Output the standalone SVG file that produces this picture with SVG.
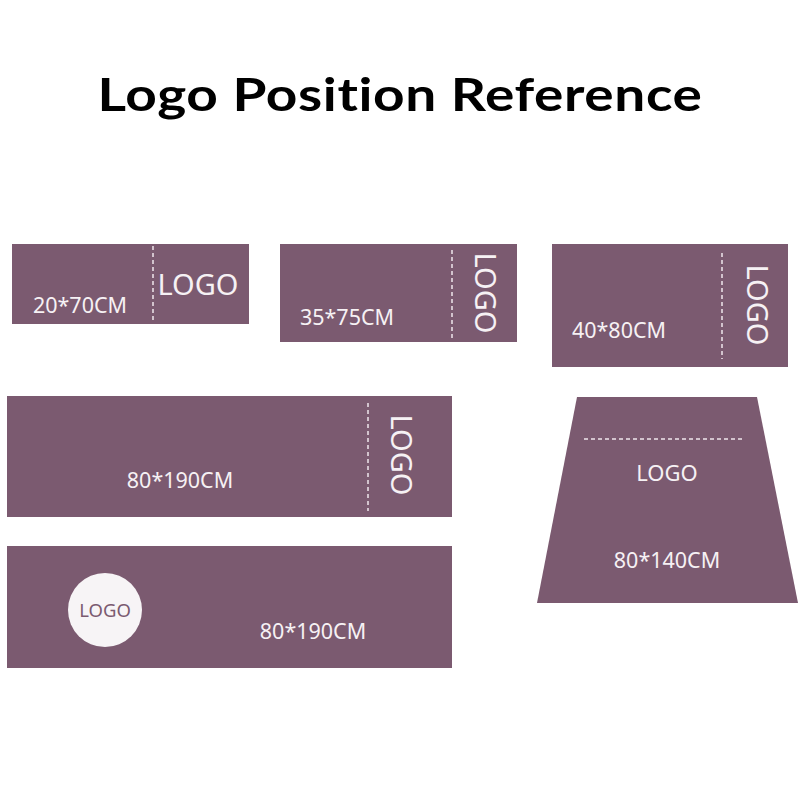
<svg xmlns="http://www.w3.org/2000/svg" width="800" height="800" viewBox="0 0 800 800">
<style>
.mat{fill:#7b5a70;}
.dash{stroke:#efe6ec;stroke-width:1.5;stroke-dasharray:4 3;fill:none;}
.t{font-family:"Noto Sans","Liberation Sans",sans-serif;fill:#f6f1f4;}
.dim{font-size:21.5px;}
.logo{font-size:29px;}
.title{font-family:"Lato","Liberation Sans",sans-serif;font-weight:700;font-size:46px;fill:#000;font-variant-ligatures:none;letter-spacing:0.5px;}
</style>
<rect width="800" height="800" fill="#fff"/>
<text class="title" x="400" y="111" text-anchor="middle" textLength="605" lengthAdjust="spacingAndGlyphs">Logo Position Reference</text>

<g id="mat-20x70">
<rect class="mat" x="12" y="244" width="237" height="80"/>
<line class="dash" x1="153" y1="246" x2="153" y2="322"/>
<text class="t logo" x="198" y="295" text-anchor="middle">LOGO</text>
<text class="t dim" x="80" y="313" text-anchor="middle">20*70CM</text>
</g>

<g id="mat-35x75">
<rect class="mat" x="280" y="244" width="237" height="98"/>
<line class="dash" x1="452" y1="250" x2="452" y2="338"/>
<text class="t logo" transform="translate(485,293) rotate(90)" x="0" y="10.5" text-anchor="middle">LOGO</text>
<text class="t dim" x="347" y="325" text-anchor="middle">35*75CM</text>
</g>

<g id="mat-40x80">
<rect class="mat" x="552" y="244" width="236" height="123"/>
<line class="dash" x1="722" y1="253" x2="722" y2="359"/>
<text class="t logo" transform="translate(757,305) rotate(90)" x="0" y="10.5" text-anchor="middle">LOGO</text>
<text class="t dim" x="619" y="338" text-anchor="middle">40*80CM</text>
</g>

<g id="mat-80x190-a">
<rect class="mat" x="7" y="396" width="445" height="121"/>
<line class="dash" x1="368" y1="403" x2="368" y2="511"/>
<text class="t logo" transform="translate(401,455) rotate(90)" x="0" y="10.5" text-anchor="middle">LOGO</text>
<text class="t dim" x="180" y="488" text-anchor="middle">80*190CM</text>
</g>

<g id="mat-80x140">
<polygon class="mat" points="577,397 757,397 798,603 537,603"/>
<line class="dash" x1="584" y1="439" x2="745" y2="439"/>
<text class="t" font-size="22" x="667" y="481" text-anchor="middle">LOGO</text>
<text class="t dim" x="667" y="568" text-anchor="middle">80*140CM</text>
</g>

<g id="mat-80x190-b">
<rect class="mat" x="7" y="546" width="445" height="122"/>
<circle cx="105" cy="610" r="37" fill="#f7f4f6"/>
<text font-family="Noto Sans, Liberation Sans, sans-serif" font-size="18.5" fill="#7b5a70" x="105" y="617" text-anchor="middle">LOGO</text>
<text class="t dim" x="313" y="639" text-anchor="middle">80*190CM</text>
</g>
</svg>
